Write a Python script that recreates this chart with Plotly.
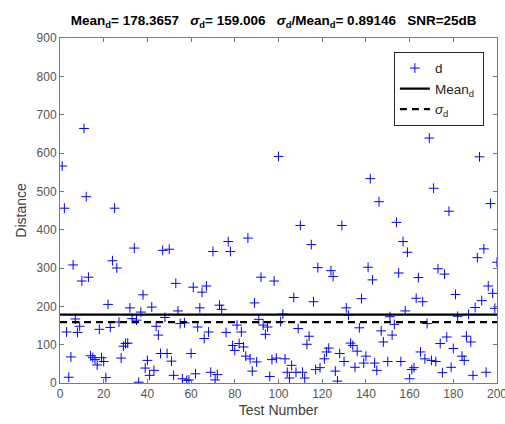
import plotly.graph_objects as go

test_number = [
    1, 2, 3, 4, 5, 6, 7, 8, 9, 10,
    11, 12, 13, 14, 15, 16, 17, 18, 19, 20,
    21, 22, 23, 24, 25, 26, 27, 28, 29, 30,
    31, 32, 33, 34, 35, 36, 37, 38, 39, 40,
    41, 42, 43, 44, 45, 46, 47, 48, 49, 50,
    51, 52, 53, 54, 55, 56, 57, 58, 59, 60,
    61, 62, 63, 64, 65, 66, 67, 68, 69, 70,
    71, 72, 73, 74, 76, 77, 78, 79, 80,
    81, 82, 83, 84, 85, 86, 87, 88, 89, 90,
    91, 92, 93, 94, 95, 96, 97, 98, 99, 100,
    101, 102, 103, 104, 105, 106, 107, 108, 109, 110,
    111, 112, 113, 114, 115, 116, 117, 118, 119,
    121, 122, 123, 124, 125, 126, 127, 128, 129, 130,
    131, 132, 133, 134, 135, 136, 137, 138, 139, 140,
    141, 142, 143, 144, 145, 146, 147, 148,
    150, 151, 152, 153, 154, 155, 156, 157, 158, 159, 160,
    161, 162, 163, 164, 165, 166, 167, 168, 169, 170,
    171, 172, 173, 174, 175, 176, 177, 178, 179, 180,
    181, 182, 184, 185, 186, 187, 188, 189, 190,
    191, 192, 193, 194, 195, 196, 197, 198, 199, 200,
]
distance = [
    566, 456, 133, 15, 68, 308, 167, 132, 148, 266,
    664, 486, 276, 71, 66, 61, 47, 140, 66, 56,
    14, 205, 145, 319, 456, 300, 159, 65, 96, 103,
    104, 196, 168, 352, 164, 2, 185, 230, 39, 59,
    20, 198, 33, 148, 125, 77, 346, 171, 77, 349,
    57, 20, 260, 188, 155, 11, 157, 7, 8, 77,
    250, 24, 146, 196, 237, 116, 253, 133, 28, 343,
    8, 22, 203, 192, 132, 369, 343, 98, 85,
    151, 103, 133, 94, 70, 378, 63, 31, 209, 55,
    166, 276, 151, 127, 146, 17, 61, 266, 65, 591,
    160, 180, 63, 28, 13, 46, 223, 28, 142, 411,
    28, 13, 101, 122, 361, 212, 35, 301, 40,
    63, 81, 91, 293, 278, 31, 5, 77, 411, 56,
    196, 177, 104, 98, 41, 83, 144, 220, 52, 70,
    302, 533, 269, 52, 33, 473, 136, 107,
    56, 173, 125, 153, 419, 287, 56, 369, 188, 341, 11,
    35, 40, 221, 275, 81, 212, 63, 155, 639, 59,
    508, 56, 298, 103, 27, 284, 120, 448, 41, 90,
    231, 174, 70, 59, 122, 179, 107, 20, 197,
    327, 590, 215, 350, 28, 253, 468, 234, 195, 315,
]
mean_d = 178.3657
sigma_d = 159.006
x_range = [0, 200]
y_range = [0, 900]
x_ticks = [0, 20, 40, 60, 80, 100, 120, 140, 160, 180, 200]
y_ticks = [0, 100, 200, 300, 400, 500, 600, 700, 800, 900]

FONT = "Liberation Sans, Arial, Helvetica, sans-serif"
AX = "#7a7a7a"

fig = go.Figure()
fig.add_trace(go.Scatter(
    x=test_number, y=distance, mode="markers", name="d",
    marker=dict(symbol="cross-thin", size=7, color="#0000ff",
                line=dict(color="#0000ff", width=1)),
))
fig.add_trace(go.Scatter(
    x=x_range, y=[mean_d, mean_d], mode="lines", name="Mean<sub>d</sub>\u00a0",
    line=dict(color="black", width=2.2),
))
fig.add_trace(go.Scatter(
    x=x_range, y=[sigma_d, sigma_d], mode="lines", name="<i>σ</i><sub>d</sub>",
    line=dict(color="black", width=2.2, dash="7px,5px"),
))

nb = "\u00a0"
title = (f"<b>Mean<sub>d</sub>= 178.3657{nb*3}<i>σ</i><sub>d</sub>= 159.006{nb*3}"
         f"<i>σ</i><sub>d</sub>/Mean<sub>d</sub>= 0.89146{nb*3}SNR=25dB</b>")

fig.update_layout(
    width=505, height=424,
    margin=dict(l=60, r=8, t=38, b=41, autoexpand=False),
    paper_bgcolor="white", plot_bgcolor="white",
    font=dict(family=FONT, color="#262626"),
    title=dict(text=title, font=dict(size=13.5, color="black", family=FONT),
               x=0.542, xref="container", xanchor="center",
               y=1 - 20 / 424, yref="container", yanchor="middle"),
    showlegend=True,
    legend=dict(x=0.97, y=0.96, xanchor="right", yanchor="top",
                bgcolor="white", bordercolor="#262626", borderwidth=1,
                font=dict(size=13.5, color="#262626", family=FONT),
                tracegroupgap=0, itemwidth=30),
)
fig.update_xaxes(
    range=x_range, tickvals=x_ticks, showgrid=False, zeroline=False,
    showline=True, linecolor=AX, linewidth=1, mirror="ticks",
    ticks="inside", ticklen=4, tickcolor=AX, tickwidth=1,
    tickfont=dict(size=12, color="#555555"), ticklabeloverflow="allow",
    automargin=False,
    title=dict(text="Test Number", font=dict(size=14, color="#404040"), standoff=4),
)
fig.update_yaxes(
    range=y_range, tickvals=y_ticks, showgrid=False, zeroline=False,
    showline=True, linecolor=AX, linewidth=1, mirror="ticks",
    ticks="inside", ticklen=4, tickcolor=AX, tickwidth=1,
    tickfont=dict(size=12, color="#555555"), automargin=False,
    title=dict(text="Distance", font=dict(size=14, color="#404040"), standoff=6),
)

fig.write_html("out.html")
